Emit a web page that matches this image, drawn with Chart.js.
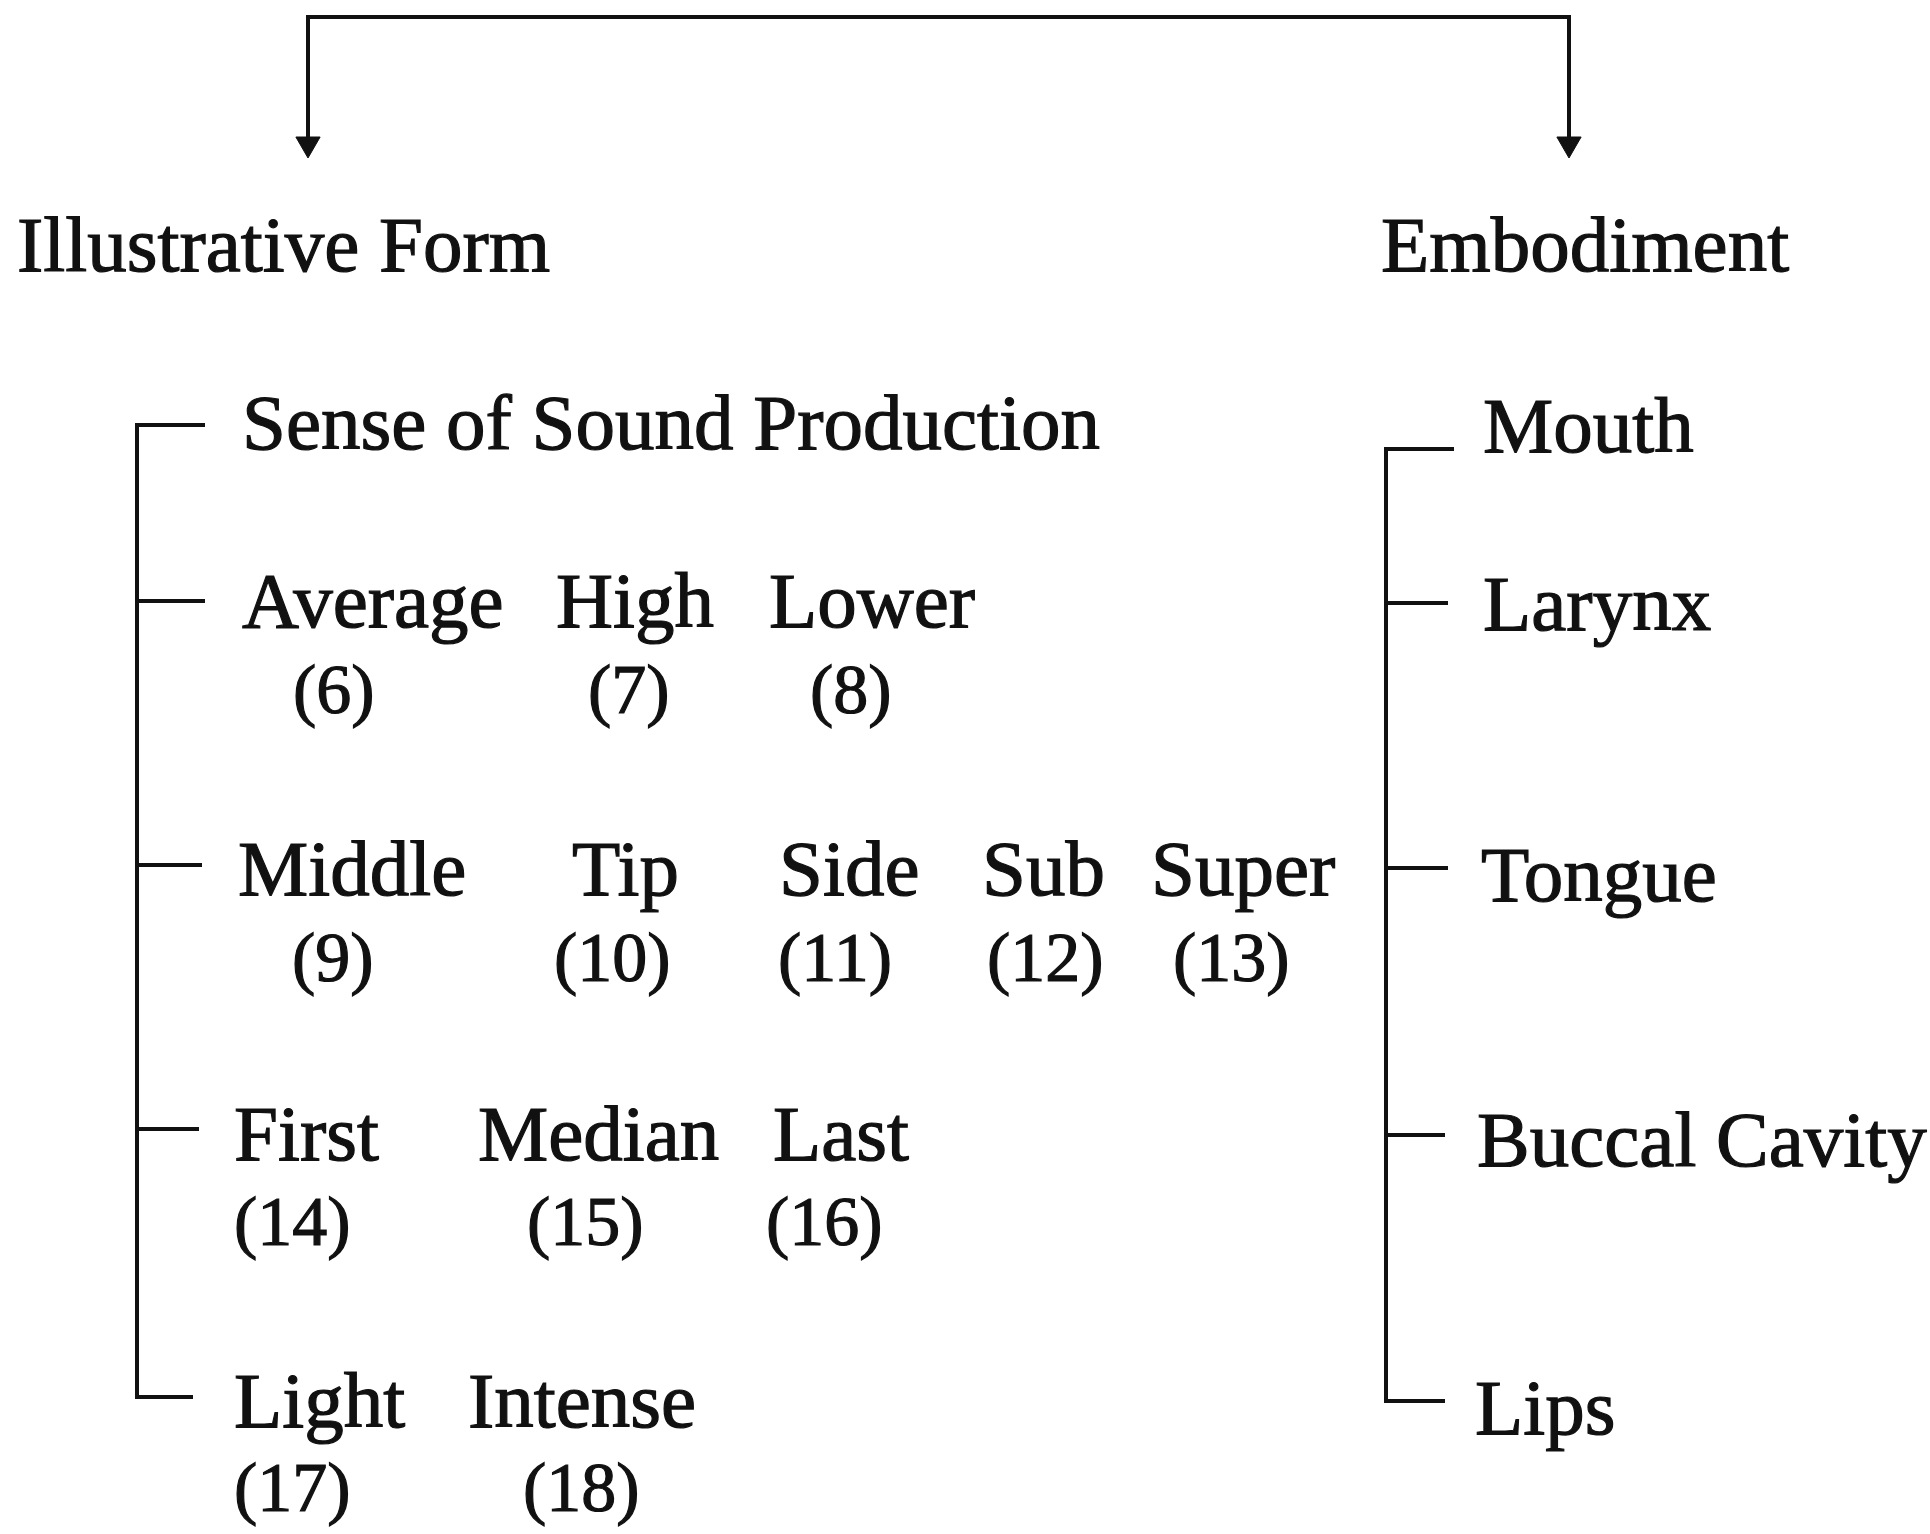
<!DOCTYPE html>
<html>
<head>
<meta charset="utf-8">
<title>Illustrative Form / Embodiment</title>
<script src="https://cdn.jsdelivr.net/npm/chart.js@4.4.1/dist/chart.umd.min.js"></script>
<style>
  html, body { margin: 0; padding: 0; background: #fff; }
  #diagram { display: block; }
</style>
</head>
<body>
<canvas id="diagram" width="1930" height="1534"></canvas>
<script>
// headings and branch words (left edge x, middle y, in diagram units)
const wordLabels = ['Illustrative Form', 'Embodiment',
    'Sense of Sound Production',
    'Average', 'High', 'Lower',
    'Middle', 'Tip', 'Side', 'Sub', 'Super',
    'First', 'Median', 'Last',
    'Light', 'Intense',
    'Mouth', 'Larynx', 'Tongue', 'Buccal Cavity', 'Lips'];
const wordX = [17, 1381,
    242,
    242, 556, 769,
    238, 572, 779, 982, 1151,
    234, 478, 773,
    234, 468,
    1483, 1483, 1481, 1477, 1475];
const wordY = [250, 250,
    428,
    606, 606, 606,
    874, 874, 874, 874, 874,
    1139, 1139, 1139,
    1406, 1406,
    431, 609, 880, 1145, 1413];

// numbers under the words
const numberLabels = ['(6)', '(7)', '(8)',
    '(9)', '(10)', '(11)', '(12)', '(13)',
    '(14)', '(15)', '(16)',
    '(17)', '(18)'];
const numberX = [293, 588, 810,
    292, 554, 778, 987, 1173,
    234, 527, 766,
    234, 523];
const numberY = [695, 695, 695,
    963, 963, 963, 963, 963,
    1227, 1227, 1227,
    1493, 1493];

// top connector with its two arrows
const topLinkX = [308, 308, 1569, 1569];
const topLinkY = [140, 17, 17, 140];
const arrowX = [308, 1569];
const arrowY = [144, 144];

// left bracket
const leftSpineX = 137;
const leftRowY = [425, 601, 865, 1129, 1397];
const leftTickEnd = [203, 203, 200, 197, 191];

// right bracket
const rightSpineX = 1386;
const rightRowY = [449, 603, 868, 1135, 1401];
const rightTickEnd = [1452, 1446, 1446, 1443, 1443];

const INK = '#111111';

function segment(points) {
    return {
        type: 'line',
        data: points,
        showLine: true,
        borderColor: INK,
        borderWidth: 4,
        borderCapStyle: 'square',
        pointRadius: 0,
        fill: false,
        tension: 0
    };
}

let data_set = [];
data_set.push(segment(topLinkX.map((x, i) => ({x: x, y: topLinkY[i]}))));
data_set.push(segment([{x: leftSpineX, y: leftRowY[0]}, {x: leftSpineX, y: leftRowY[leftRowY.length - 1]}]));
leftRowY.forEach(function (y, i) {
    data_set.push(segment([{x: leftSpineX, y: y}, {x: leftTickEnd[i], y: y}]));
});
data_set.push(segment([{x: rightSpineX, y: rightRowY[0]}, {x: rightSpineX, y: rightRowY[rightRowY.length - 1]}]));
rightRowY.forEach(function (y, i) {
    data_set.push(segment([{x: rightSpineX, y: y}, {x: rightTickEnd[i], y: y}]));
});
data_set.push({
    type: 'scatter',
    data: arrowX.map((x, i) => ({x: x, y: arrowY[i]})),
    pointStyle: 'triangle',
    rotation: 180,
    pointRadius: 14,
    pointBackgroundColor: INK,
    pointBorderColor: INK,
    pointBorderWidth: 1
});

// writes the labels at their scale positions
const labelPlugin = {
    id: 'labels',
    beforeDraw(chart) {
        const c = chart.ctx;
        c.save();
        c.fillStyle = '#ffffff';
        c.fillRect(0, 0, chart.width, chart.height);
        c.restore();
    },
    afterDatasetsDraw(chart) {
        const c = chart.ctx;
        const sx = chart.scales.x;
        const sy = chart.scales.y;
        c.save();
        c.fillStyle = INK;
        c.strokeStyle = INK;
        c.lineWidth = 1.2;
        c.textAlign = 'left';
        c.textBaseline = 'middle';
        c.font = '79px "Liberation Serif", "DejaVu Serif", serif';
        wordLabels.forEach(function (t, i) {
            let px = sx.getPixelForValue(wordX[i]);
            let py = sy.getPixelForValue(wordY[i]);
            c.fillText(t, px, py);
            c.strokeText(t, px, py);
        });
        c.font = '70px "Liberation Serif", "DejaVu Serif", serif';
        numberLabels.forEach(function (t, i) {
            let px = sx.getPixelForValue(numberX[i]);
            let py = sy.getPixelForValue(numberY[i]);
            c.fillText(t, px, py);
            c.strokeText(t, px, py);
        });
        c.restore();
    }
};

let ctx = document.getElementById('diagram').getContext('2d');
let myChart = new Chart(ctx, {
    type: 'scatter',
    data: { datasets: data_set },
    options: {
        responsive: false,
        animation: false,
        devicePixelRatio: 1,
        layout: { padding: 0, autoPadding: false },
        scales: {
            x: { type: 'linear', min: 0, max: 1930, display: false },
            y: { type: 'linear', min: 0, max: 1534, reverse: true, display: false }
        },
        plugins: {
            legend: { display: false },
            tooltip: { enabled: false }
        }
    },
    plugins: [labelPlugin]
});
</script>
</body>
</html>
